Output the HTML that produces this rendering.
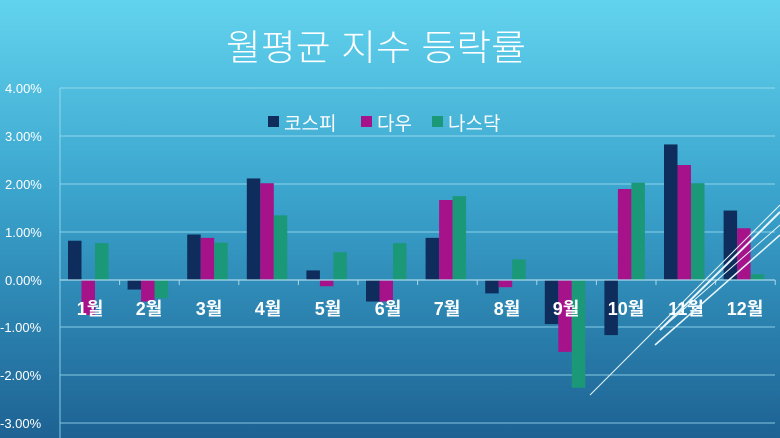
<!DOCTYPE html>
<html><head><meta charset="utf-8"><style>
html,body{margin:0;padding:0;width:780px;height:438px;overflow:hidden}
svg{display:block}
text{font-family:"Liberation Sans","Noto Sans CJK KR",sans-serif}
</style></head><body>
<svg id="s" width="780" height="438" xmlns="http://www.w3.org/2000/svg">
<defs><linearGradient id="bg" x1="0" y1="0" x2="0" y2="1">
<stop offset="0" stop-color="#62d3ee"/><stop offset="0.45" stop-color="#3aa3cc"/><stop offset="1" stop-color="#1d6293"/></linearGradient></defs>
<rect width="780" height="438" fill="url(#bg)"/>
<g stroke="#9fe0f3" stroke-width="1" opacity="0.8">
<line x1="60" y1="88" x2="775" y2="88"/><line x1="60" y1="136" x2="775" y2="136"/>
<line x1="60" y1="184" x2="775" y2="184"/><line x1="60" y1="232" x2="775" y2="232"/>
<line x1="60" y1="327" x2="775" y2="327"/><line x1="60" y1="375" x2="775" y2="375"/>
<line x1="60" y1="423" x2="775" y2="423"/><line x1="60" y1="88" x2="60" y2="438"/>
</g>
<g id="bars"></g>
<line x1="60" y1="280" x2="775" y2="280" stroke="#a8d8ea" stroke-width="1.2"/>
<g id="ticks" stroke="#a8d8ea"></g>
<g fill="#fff" font-size="13">
<text x="5" y="93">4.00%</text><text x="5" y="141">3.00%</text><text x="5" y="189">2.00%</text>
<text x="5" y="237">1.00%</text><text x="5" y="285">0.00%</text><text x="0" y="332">-1.00%</text>
<text x="0" y="380">-2.00%</text><text x="0" y="428">-3.00%</text>
</g>
<text x="376" y="60" fill="#fff" font-size="36" font-weight="300" text-anchor="middle" textLength="300" lengthAdjust="spacingAndGlyphs">월평균 지수 등락률</text>
<rect x="268" y="116" width="11" height="11" fill="#0f2d5c"/><text x="284" y="130" fill="#fff" font-size="19">코스피</text>
<rect x="361" y="116" width="11" height="11" fill="#a6128a"/><text x="377" y="130" fill="#fff" font-size="19">다우</text>
<rect x="432" y="116" width="11" height="11" fill="#1b9878"/><text x="448" y="130" fill="#fff" font-size="19">나스닥</text>
<g fill="#fff" font-size="18" font-weight="bold" text-anchor="middle">
<text x="90" y="315">1월</text><text x="149" y="315">2월</text><text x="209" y="315">3월</text>
<text x="268" y="315">4월</text><text x="328" y="315">5월</text><text x="388" y="315">6월</text>
<text x="447" y="315">7월</text><text x="507" y="315">8월</text><text x="566" y="315">9월</text>
<text x="626" y="315">10월</text><text x="686" y="315">11월</text><text x="745" y="315">12월</text>
</g>
<g stroke="#e8f6fb" fill="none">
<line x1="590" y1="395" x2="780" y2="205" stroke-width="1"/>
<line x1="660" y1="330" x2="780" y2="212" stroke-width="2"/>
<line x1="660" y1="330" x2="780" y2="225" stroke-width="1"/>
<line x1="655" y1="345" x2="780" y2="235" stroke-width="1.5"/>
</g>
</svg>
<script>
var d=[[0.82,-0.73,0.77],[-0.2,-0.45,-0.38],[0.95,0.88,0.78],[2.12,2.02,1.35],[0.2,-0.13,0.58],[-0.45,-0.45,0.77],[0.88,1.67,1.75],[-0.28,-0.15,0.43],[-0.92,-1.5,-2.25],[-1.15,1.9,2.03],[2.83,2.4,2.02],[1.45,1.08,0.12]];
var c=["#0f2d5c","#a6128a","#1b9878"],g=document.getElementById("bars"),t=document.getElementById("ticks"),ns="http://www.w3.org/2000/svg";
for(var i=0;i<12;i++){var s=60+i*59.6;
for(var j=0;j<3;j++){var v=d[i][j],r=document.createElementNS(ns,"rect");var y0=280-v*47.9;
r.setAttribute("x",s+8+j*13.5);r.setAttribute("width",13.5);r.setAttribute("y",Math.min(y0,280));r.setAttribute("height",Math.abs(v*47.9));r.setAttribute("fill",c[j]);g.appendChild(r);}
var l=document.createElementNS(ns,"line");l.setAttribute("x1",s+59.6);l.setAttribute("x2",s+59.6);l.setAttribute("y1",280);l.setAttribute("y2",285);t.appendChild(l);}
</script>
</body></html>
